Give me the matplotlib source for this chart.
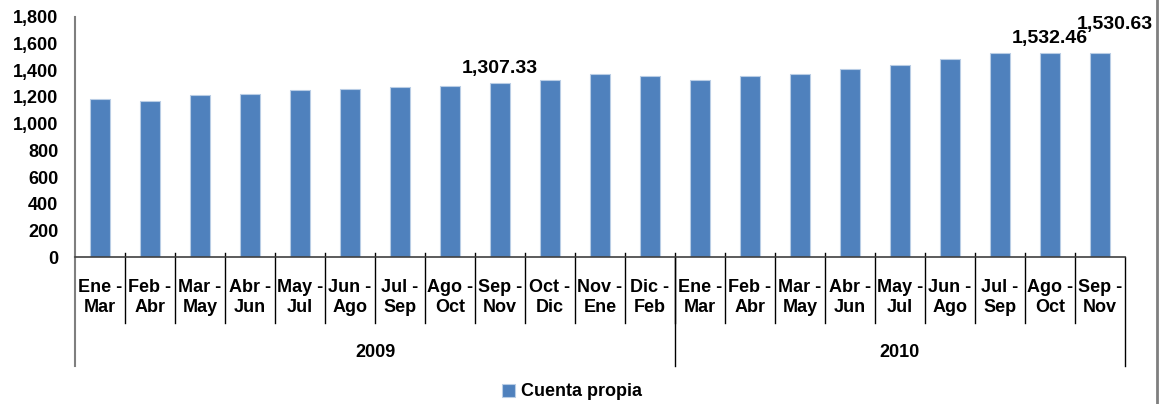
import matplotlib.pyplot as plt
from matplotlib.lines import Line2D
from matplotlib.ticker import FuncFormatter
import numpy as np

plt.rcParams['font.family'] = ['Liberation Sans', 'DejaVu Sans']
plt.rcParams['font.weight'] = 'bold'

periods = ['Ene -\nMar', 'Feb -\nAbr', 'Mar -\nMay', 'Abr -\nJun', 'May -\nJul', 'Jun -\nAgo',
           'Jul -\nSep', 'Ago -\nOct', 'Sep -\nNov', 'Oct -\nDic', 'Nov -\nEne', 'Dic -\nFeb',
           'Ene -\nMar', 'Feb -\nAbr', 'Mar -\nMay', 'Abr -\nJun', 'May -\nJul', 'Jun -\nAgo',
           'Jul -\nSep', 'Ago -\nOct', 'Sep -\nNov']
years = ['2009', '2010']
year_counts = [12, 9]
cuenta_propia = [1187, 1169, 1214, 1222, 1252, 1259, 1277, 1284, 1307.33, 1329, 1375, 1357,
                 1329, 1357, 1375, 1412, 1437, 1485, 1529, 1532.46, 1530.63]
labeled = [8, 19, 20]

fig = plt.figure(figsize=(11.59, 4.04), dpi=100)
ax = fig.add_axes([75/1159, 147/404, 1050/1159, 240/404])

x = np.arange(len(cuenta_propia))
ax.bar(x, cuenta_propia, width=0.41, color='#4F81BD', edgecolor='#B9CDE5', linewidth=0.8,
       label='Cuenta propia')

ax.set_xlim(-0.5, len(cuenta_propia) - 0.5)
ax.set_ylim(0, 1800)
ax.set_yticks(np.arange(0, 1801, 200))
ax.yaxis.set_major_formatter(FuncFormatter(lambda v, p: '{:,.0f}'.format(v)))
ax.tick_params(axis='y', length=0, pad=12, labelsize=13)
ax.set_xticks([])

for s in ['top', 'right']:
    ax.spines[s].set_visible(False)
ax.spines['left'].set_color('#7F7F7F')
ax.spines['left'].set_linewidth(1.5)
ax.spines['bottom'].set_color('#404040')
ax.spines['bottom'].set_linewidth(1.2)

# data labels
for i in labeled:
    txt = '{:,.2f}'.format(cuenta_propia[i])
    if i == len(cuenta_propia) - 1:
        ax.annotate(txt, (x[i], cuenta_propia[i]), xytext=(11, 14), textcoords='offset points',
                    ha='center', va='bottom', fontsize=14, fontweight='bold')
    else:
        ax.annotate(txt, (x[i], cuenta_propia[i]), xytext=(0, 4), textcoords='offset points',
                    ha='center', va='bottom', fontsize=14, fontweight='bold')

# category labels and separators
trans = ax.get_xaxis_transform()
for i, lab in enumerate(periods):
    ax.text(x[i], -0.17, lab, transform=trans, ha='center', va='center', fontsize=13,
            fontweight='bold', linespacing=1.2)
for b in range(1, len(periods)):
    ax.add_line(Line2D([b - 0.5, b - 0.5], [0.017, -0.275], transform=trans, color='black',
                       linewidth=1, clip_on=False))

# year groups
start = 0
bounds = [-0.5]
for yr, n in zip(years, year_counts):
    ax.text(start + (n - 1) / 2, -0.396, yr, transform=trans, ha='center', va='center',
            fontsize=13, fontweight='bold')
    start += n
    bounds.append(start - 0.5)
for b in bounds:
    col = '#7F7F7F' if b == bounds[0] else 'black'
    ax.add_line(Line2D([b, b], [0, -0.454], transform=trans, color=col,
                       linewidth=1.5 if b == bounds[0] else 1, clip_on=False))

fig.legend(loc='center', bbox_to_anchor=(572/1159, 1 - 392/404), frameon=False,
           handlelength=0.7, handleheight=0.7, handletextpad=0.3, prop={'size': 13, 'weight': 'bold'})

# outer border on the right
fig.add_artist(Line2D([1157/1159, 1157/1159], [0, 1], transform=fig.transFigure,
                      color='#7F7F7F', linewidth=2))

plt.savefig('out.png', dpi=100)
